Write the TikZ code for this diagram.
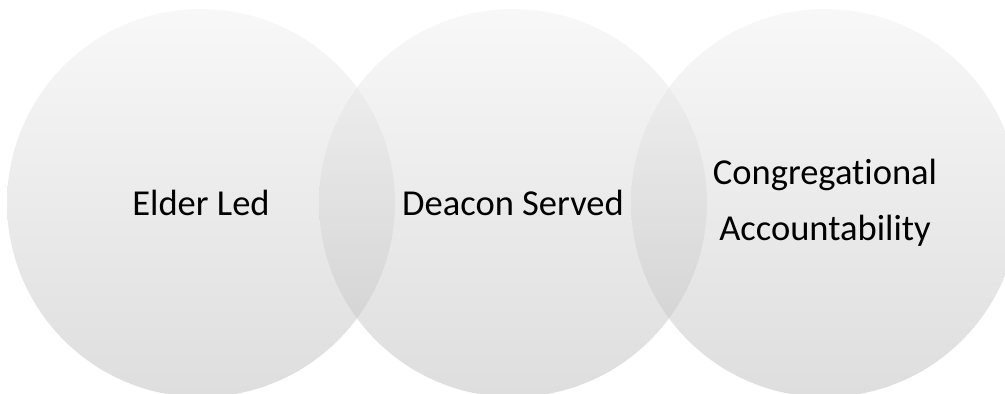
\documentclass[tikz,border=0pt]{standalone}
\usepackage{fontspec}
\setmainfont{Carlito}[Ligatures=NoCommon]
\usepackage{tikz}
\usetikzlibrary{positioning}
\definecolor{venntop}{RGB}{241,241,241}
\definecolor{vennbot}{RGB}{189,189,189}
\tikzstyle{venn}=
[circle,
inner sep=0pt,
minimum size=291pt,
top color=venntop,
bottom color=vennbot,
fill opacity=0.5,
text opacity=1,
align=center,
font=\fontsize{27.4}{42}\selectfont]

\begin{document}
\begin{tikzpicture}[x=0.75pt,y=0.75pt,node distance=-57.4pt]
\useasboundingbox (0,0) rectangle (1005,393);
\node (elder)
[venn]
at (201,190)
{Elder Led};
\node (deacon)
[venn,
right=of elder]
{Deacon Served};
\node (congr)
[venn,
right=of deacon]
{Congregational\\Accountability};
\end{tikzpicture}
\end{document}
